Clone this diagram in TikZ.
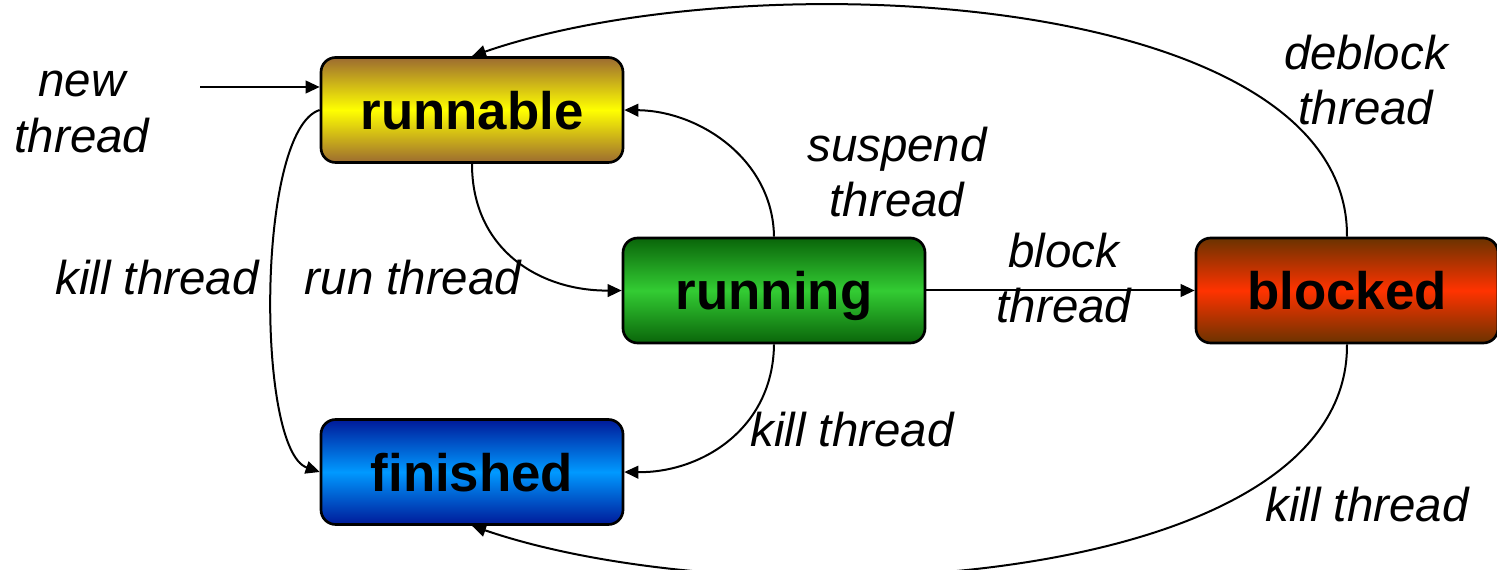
\documentclass[tikz,border=0pt]{standalone}
\usepackage{fontspec}
\setmainfont{Liberation Sans}
\usetikzlibrary{arrows.meta}

\definecolor{runDark}{HTML}{9C6B30}
\definecolor{runLight}{HTML}{FFFF00}
\definecolor{goDark}{HTML}{0A650A}
\definecolor{goLight}{HTML}{33CC33}
\definecolor{blkDark}{HTML}{6B3300}
\definecolor{blkLight}{HTML}{FF3300}
\definecolor{finDark}{HTML}{001A99}
\definecolor{finLight}{HTML}{0099FF}

\tikzset{
  state/.style={draw=black, line width=2pt, rounded corners=11pt,
    minimum width=226.5pt, minimum height=78.75pt, text depth=0pt,
    font=\fontsize{39.6}{44}\selectfont\bfseries},
  shade2/.style 2 args={top color=#1, bottom color=#1, middle color=#2},
  trans/.style={draw=black, line width=1.5pt,
    -{Triangle[length=10.5pt,width=9.5pt]}},
  lbl/.style={font=\fontsize{35.6}{41.5}\selectfont\itshape, align=center}
}

\begin{document}
\begin{tikzpicture}[x=0.75pt, y=-0.75pt]
  \useasboundingbox (0,0) rectangle (1497,570);

  % states
  \node[state, shade2={runDark}{runLight}] (runnable) at (472,110) {runnable};
  \node[state, shade2={goDark}{goLight}]   (running)  at (774,290.5) {running};
  \node[state, shade2={blkDark}{blkLight}] (blocked)  at (1347,290.5) {blocked};
  \node[state, shade2={finDark}{finLight}] (finished) at (472,472) {finished};

  % entry arrow
  \coordinate (entry) at (200,87);
  \draw[trans] (entry) -- (runnable.west |- entry);

  % transitions
  \draw[trans] (runnable.south) .. controls (472,250) and (540,291) .. (running.west);
  \draw[trans] (running.north) .. controls (773,160) and (700,111) .. (runnable.east);
  \draw[trans] (running.east) -- (blocked.west);
  \draw[trans] (blocked.north) .. controls (1349,-10) and (750,-40) .. (runnable.north);
  \draw[trans] (blocked.south) .. controls (1349,591) and (750,621) .. (finished.south);
  \draw[trans] (running.south) .. controls (773,430) and (700,473) .. (finished.east);
  \draw[trans] (runnable.west) .. controls (256,130) and (256,450) .. (finished.west);

  % labels
  \node[lbl] (lNew)      at (82,112)   {new\\thread};
  \node[lbl] (lKillL)    at (157,278)  {kill thread};
  \node[lbl] (lRun)      at (413,278)  {run thread};
  \node[lbl] (lSuspend)  at (897,172)  {suspend\\thread};
  \node[lbl] (lBlock)    at (1064,278) {block\\thread};
  \node[lbl] (lDeblock)  at (1366,80)  {deblock\\thread};
  \node[lbl] (lKillM)    at (852,430)  {kill thread};
  \node[lbl] (lKillR)    at (1367,505) {kill thread};
\end{tikzpicture}
\end{document}
